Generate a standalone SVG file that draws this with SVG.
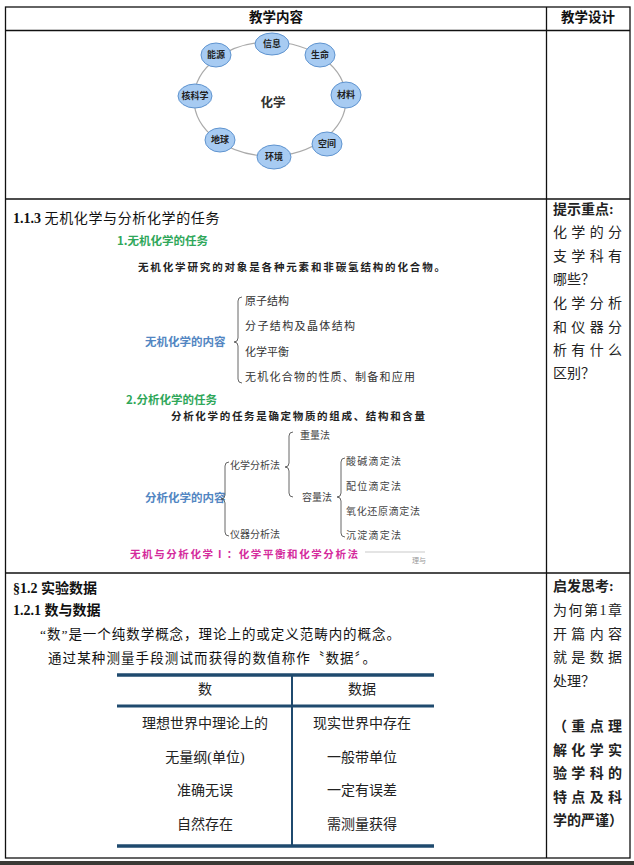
<svg xmlns="http://www.w3.org/2000/svg" width="634" height="865" viewBox="0 0 634 865">
<style>
.grid{stroke:#111;stroke-width:1.3;fill:none}
.t{font-family:"Liberation Serif","Noto Sans CJK SC",serif;fill:#111}
.b{font-weight:bold}
.hd{font-size:13.5px;font-weight:bold;text-anchor:middle}
.nd ellipse{fill:#a7cbf2;stroke:#5e93cf;stroke-width:1}
.nd text{font-family:"Noto Sans CJK SC",sans-serif;font-size:9px;fill:#222;text-anchor:middle;font-weight:bold}
.br{fill:none;stroke:#555;stroke-width:0.9}
.green{font-family:"Noto Sans CJK SC",sans-serif;font-weight:bold;font-size:11.5px;fill:#2fa75a}
.blue{font-family:"Noto Sans CJK SC",sans-serif;font-weight:bold;font-size:11.5px;fill:#5286c2}
.it{font-family:"Noto Sans CJK SC",sans-serif;font-size:11px;fill:#333}
.it2{font-family:"Noto Sans CJK SC",sans-serif;font-size:10px;fill:#444}
.kai{font-family:"Noto Sans CJK SC",sans-serif;font-size:10.5px;font-weight:bold;fill:#222}
.rc{font-family:"Liberation Serif","Noto Sans CJK SC",serif;font-size:14px;fill:#222}
.tb{font-family:"Liberation Serif","Noto Sans CJK SC",serif;font-size:14px;fill:#222;text-anchor:middle}
.tl{stroke:#1f4a6e}
</style>

<!-- outer table -->
<g id="table-grid">
<rect class="grid" x="5.5" y="7" width="624.5" height="851"/>
<line class="grid" x1="546.5" y1="7" x2="546.5" y2="858"/>
<line class="grid" x1="5.5" y1="30.5" x2="630" y2="30.5"/>
<line class="grid" x1="5.5" y1="199" x2="630" y2="199"/>
<line class="grid" x1="5.5" y1="573" x2="630" y2="573"/>
<rect x="0" y="861" width="634" height="4" fill="#3a3a36"/>
</g>

<g id="header">
<text class="t hd" x="276" y="22">教学内容</text>
<text class="t hd" x="588" y="22">教学设计</text>
</g>

<!-- chemistry ring -->
<g id="ring">
<ellipse cx="270" cy="99" rx="76" ry="57" fill="none" stroke="#aaa" stroke-width="1.2"/>
<text x="273" y="107" font-family="Noto Sans CJK SC,sans-serif" font-size="12.5" font-weight="bold" fill="#333" text-anchor="middle">化学</text>
</g>
<g id="n-xinxi" class="nd"><ellipse cx="272" cy="44" rx="17" ry="11"/><text x="272" y="47">信息</text></g>
<g id="n-nengyuan" class="nd"><ellipse cx="216" cy="55" rx="15" ry="12"/><text x="216" y="58">能源</text></g>
<g id="n-shengming" class="nd"><ellipse cx="320" cy="55" rx="15" ry="12"/><text x="320" y="58">生命</text></g>
<g id="n-hekexue" class="nd"><ellipse cx="195" cy="96" rx="17" ry="12"/><text x="195" y="99">核科学</text></g>
<g id="n-cailiao" class="nd"><ellipse cx="346" cy="95" rx="15" ry="13"/><text x="346" y="98">材料</text></g>
<g id="n-diqiu" class="nd"><ellipse cx="220" cy="140" rx="15" ry="12"/><text x="220" y="143">地球</text></g>
<g id="n-kongjian" class="nd"><ellipse cx="327" cy="144" rx="15" ry="12"/><text x="327" y="147">空间</text></g>
<g id="n-huanjing" class="nd"><ellipse cx="274" cy="157" rx="17" ry="12"/><text x="274" y="160">环境</text></g>

<!-- row 2 -->
<g id="sec-113">
<text class="t" x="13" y="223" font-size="14"><tspan font-weight="bold">1.1.3 </tspan><tspan font-family="Noto Sans CJK SC,sans-serif" font-size="14" textLength="175" lengthAdjust="spacing">无机化学与分析化学的任务</tspan></text>
<text class="green" x="117" y="245">1.无机化学的任务</text>
<text class="kai" x="138" y="271" textLength="307" lengthAdjust="spacing">无机化学研究的对象是各种元素和非碳氢结构的化合物。</text>
<text class="blue" x="145" y="346">无机化学的内容</text>
<text class="it" x="245" y="305">原子结构</text>
<text class="it" x="245" y="330" textLength="110" lengthAdjust="spacing">分子结构及晶体结构</text>
<text class="it" x="245" y="356">化学平衡</text>
<text class="it" x="245" y="381" textLength="170" lengthAdjust="spacing">无机化合物的性质、制备和应用</text>
<text class="green" x="126" y="404">2.分析化学的任务</text>
<text class="kai" x="171" y="420" textLength="254" lengthAdjust="spacing">分析化学的任务是确定物质的组成、结构和含量</text>
<text class="it2" x="300" y="439">重量法</text>
<text class="it2" x="230" y="469">化学分析法</text>
<text class="it2" x="346" y="465" textLength="55" lengthAdjust="spacing">酸碱滴定法</text>
<text class="it2" x="346" y="490" textLength="55" lengthAdjust="spacing">配位滴定法</text>
<text class="blue" x="145" y="502" font-size="11">分析化学的内容</text>
<text class="it2" x="302" y="501">容量法</text>
<text class="it2" x="346" y="515" textLength="74" lengthAdjust="spacing">氧化还原滴定法</text>
<text class="it2" x="230" y="538">仪器分析法</text>
<text class="it2" x="346" y="539" textLength="55" lengthAdjust="spacing">沉淀滴定法</text>
<text x="130" y="558" font-family="Noto Sans CJK SC,sans-serif" font-size="10.5" font-weight="bold" fill="#d42a9c" textLength="228" lengthAdjust="spacing">无机与分析化学Ⅰ：化学平衡和化学分析法</text>
<line x1="365" y1="552" x2="425" y2="552" stroke="#bbb" stroke-width="0.8"/>
<text x="412" y="563" font-family="Noto Sans CJK SC,sans-serif" font-size="7" fill="#999">理与</text>
</g>
<g id="brackets">
<path class="br" d="M242,297 Q238,297 238,301 L238,338 Q238,342 234,342 Q238,342 238,346 L238,379 Q238,383 242,383"/>
<path class="br" d="M229,462 Q225,462 225,466 L225,495 Q225,499 221,499 Q225,499 225,503 L225,532 Q225,536 229,536"/>
<path class="br" d="M293,432 Q289,432 289,436 L289,463 Q289,467 285,467 Q289,467 289,471 L289,493 Q289,497 293,497"/>
<path class="br" d="M345,458 Q341,458 341,462 L341,493 Q341,497 337,497 Q341,497 341,501 L341,533 Q341,537 345,537"/>
</g>

<g id="hint-1">
<text class="rc b" x="553" y="214">提示重点:</text>
<text class="rc" x="553" y="237" textLength="69" lengthAdjust="spacing">化学的分</text>
<text class="rc" x="553" y="261" textLength="69" lengthAdjust="spacing">支学科有</text>
<text class="rc" x="553" y="284">哪些？</text>
<text class="rc" x="553" y="308" textLength="69" lengthAdjust="spacing">化学分析</text>
<text class="rc" x="553" y="332" textLength="69" lengthAdjust="spacing">和仪器分</text>
<text class="rc" x="553" y="355" textLength="69" lengthAdjust="spacing">析有什么</text>
<text class="rc" x="553" y="378">区别？</text>
</g>

<!-- row 3 -->
<g id="sec-12">
<text class="t b" x="13" y="593" font-size="14">§1.2  实验数据</text>
<text class="t b" x="13" y="615" font-size="14">1.2.1  数与数据</text>
<text class="t" x="40" y="639" font-size="13.5" textLength="360" lengthAdjust="spacing">“数”是一个纯数学概念，理论上的或定义范畴内的概念。</text>
<text class="t" x="48" y="663" font-size="13.5" font-family="Noto Sans CJK SC,sans-serif" textLength="328" lengthAdjust="spacing">通过某种测量手段测试而获得的数值称作〝数据〞。</text>
</g>
<g id="compare-table">
<line class="tl" x1="117" y1="675" x2="434" y2="675" stroke-width="3.5"/>
<line class="tl" x1="117" y1="706" x2="434" y2="706" stroke-width="3"/>
<line class="tl" x1="117" y1="846" x2="434" y2="846" stroke-width="3.5"/>
<line class="tl" x1="292" y1="675" x2="292" y2="846" stroke-width="2"/>
<text class="tb" x="205" y="694">数</text>
<text class="tb" x="362" y="694">数据</text>
<text class="tb" x="205" y="728">理想世界中理论上的</text>
<text class="tb" x="362" y="728">现实世界中存在</text>
<text class="tb" x="205" y="762">无量纲(单位)</text>
<text class="tb" x="362" y="762">一般带单位</text>
<text class="tb" x="205" y="795">准确无误</text>
<text class="tb" x="362" y="795">一定有误差</text>
<text class="tb" x="205" y="829">自然存在</text>
<text class="tb" x="362" y="829">需测量获得</text>
</g>

<g id="hint-2">
<text class="rc b" x="553" y="591">启发思考:</text>
<text class="rc" x="553" y="615" textLength="69" lengthAdjust="spacing">为何第1章</text>
<text class="rc" x="553" y="639" textLength="69" lengthAdjust="spacing">开篇内容</text>
<text class="rc" x="553" y="662" textLength="69" lengthAdjust="spacing">就是数据</text>
<text class="rc" x="553" y="686">处理？</text>
<text class="rc b" x="553" y="731" textLength="69" lengthAdjust="spacing">（重点理</text>
<text class="rc b" x="553" y="755" textLength="69" lengthAdjust="spacing">解化学实</text>
<text class="rc b" x="553" y="778" textLength="69" lengthAdjust="spacing">验学科的</text>
<text class="rc b" x="553" y="802" textLength="69" lengthAdjust="spacing">特点及科</text>
<text class="rc b" x="553" y="825">学的严谨）</text>
</g>
</svg>
